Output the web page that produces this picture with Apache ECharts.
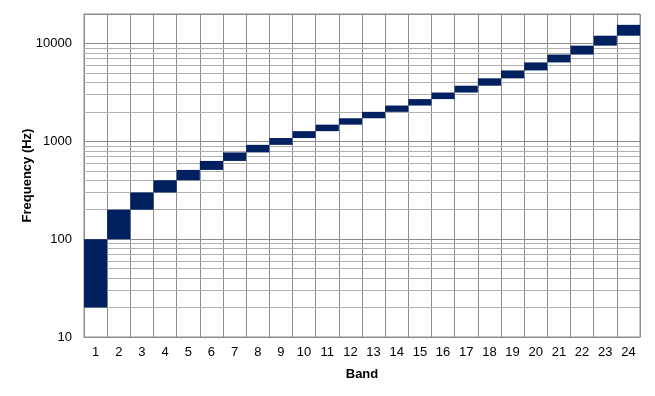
<!DOCTYPE html>
<html>
<head>
<meta charset="utf-8">
<script src="https://cdn.jsdelivr.net/npm/echarts@6/dist/echarts.min.js"></script>
<style>html,body{margin:0;padding:0;background:#fff}#c{width:655px;height:396px}</style>
</head>
<body>
<div id="c"></div>
<script>
var bands = ['1','2','3','4','5','6','7','8','9','10','11','12','13','14','15','16','17','18','19','20','21','22','23','24'];
var lowEdge  = [20, 100, 200, 300, 400, 510, 630, 770, 920, 1080, 1270, 1480, 1720, 2000, 2320, 2700, 3150, 3700, 4400, 5300, 6400, 7700, 9500, 12000];
var highEdge = [100, 200, 300, 400, 510, 630, 770, 920, 1080, 1270, 1480, 1720, 2000, 2320, 2700, 3150, 3700, 4400, 5300, 6400, 7700, 9500, 12000, 15500];
var yMin = 10, yMax = 20000;

// minor grid positions (2..9 of each decade)
var minorLines = [];
for (var d = 10; d < yMax; d *= 10) {
  for (var k = 2; k <= 9; k++) { if (k * d < yMax) minorLines.push({yAxis: k * d}); }
}

var data = bands.map(function (b, i) { return [i, lowEdge[i], highEdge[i]]; });

var chart = echarts.init(document.getElementById('c'), null, {renderer: 'canvas'});
chart.setOption({
  animation: false,
  grid: {left: 84, right: 15, top: 14, bottom: 59, show: true, borderColor: '#8c8c8c', borderWidth: 1},
  xAxis: {
    type: 'category', data: bands, boundaryGap: true,
    name: 'Band', nameLocation: 'middle', nameGap: 31, nameMoveOverlap: false,
    nameTextStyle: {fontFamily: 'Liberation Sans', fontSize: 13, fontWeight: 'bold', color: '#000'},
    axisLine: {lineStyle: {color: '#8c8c8c'}},
    axisTick: {show: false},
    axisLabel: {fontFamily: 'Liberation Sans', fontSize: 13, color: '#000', margin: 9, interval: 0},
    splitLine: {show: true, interval: 0, lineStyle: {color: '#8c8c8c', width: 1}}
  },
  yAxis: {
    type: 'log', logBase: 10, min: yMin, max: yMax,
    name: 'Frequency (Hz)', nameLocation: 'middle', nameGap: 50, nameRotate: 90, nameMoveOverlap: false,
    nameTextStyle: {fontFamily: 'Liberation Sans', fontSize: 13, fontWeight: 'bold', color: '#000'},
    axisLine: {show: true, lineStyle: {color: '#8c8c8c'}},
    axisTick: {show: false},
    axisLabel: {fontFamily: 'Liberation Sans', fontSize: 13, color: '#000', margin: 12, showMaxLabel: false,
      formatter: function (v) { return String(Math.round(v)); }},
    splitLine: {show: true, lineStyle: {color: '#8c8c8c', width: 1}}
  },
  series: [{
    type: 'custom',
    data: data,
    encode: {x: 0, y: [1, 2]},
    renderItem: function (params, api) {
      var i = api.value(0);
      var p0 = api.coord([i, api.value(1)]);
      var p1 = api.coord([i, api.value(2)]);
      var w = api.size([1, 0])[0];
      return {
        type: 'rect',
        shape: {x: p0[0] - w / 2, y: p1[1], width: w, height: p0[1] - p1[1]},
        style: {fill: '#00205f'}
      };
    },
    markLine: {
      silent: true, symbol: 'none', label: {show: false},
      lineStyle: {color: '#b0b0b0', width: 1, type: 'solid'},
      data: minorLines, z: 1
    },
    z: 5
  }]
});
</script>
</body>
</html>
